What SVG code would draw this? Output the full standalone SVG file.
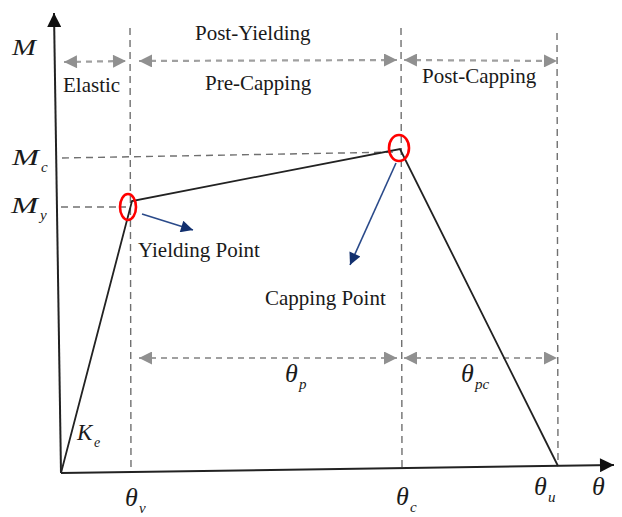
<svg xmlns="http://www.w3.org/2000/svg" width="622" height="517" viewBox="0 0 622 517">
<defs>
<style>
.lbl{font-family:"Liberation Serif","DejaVu Serif","Times New Roman",serif;font-size:21px;fill:#1a1a1a}
.math{font-family:"Liberation Serif","DejaVu Serif","Times New Roman",serif;font-style:italic;fill:#1a1a1a}
.guide{stroke:#707070;stroke-width:1.4;stroke-dasharray:7 5;fill:none}
.span{stroke:#a0a0a0;stroke-width:2.2;stroke-dasharray:6 5;fill:none;marker-start:url(#ga);marker-end:url(#ga)}
.curve{stroke:#222;stroke-width:1.8;fill:none;stroke-linejoin:miter}
.axis{stroke:#222;stroke-width:2;fill:none}
.mark{stroke:#ff0000;stroke-width:2.6;fill:none}
.ptr{stroke:#2a4a8a;stroke-width:1.6;fill:none;marker-end:url(#ba)}
</style>
<marker id="ga" viewBox="0 0 10 10" refX="10" refY="5" markerWidth="14" markerHeight="13" markerUnits="userSpaceOnUse" orient="auto-start-reverse"><path d="M0,0 L10,5 L0,10 Z" fill="#909090"/></marker>
<marker id="ba" viewBox="0 0 10 10" refX="10" refY="5" markerWidth="14" markerHeight="12" markerUnits="userSpaceOnUse" orient="auto"><path d="M0,0 L10,5 L0,10 Z" fill="#12306e"/></marker>
<marker id="ka" viewBox="0 0 10 10" refX="10" refY="5" markerWidth="16" markerHeight="14" markerUnits="userSpaceOnUse" orient="auto"><path d="M0,0 L10,5 L0,10 Z" fill="#111"/></marker>
</defs>
<rect width="622" height="517" fill="#fff"/>

<g id="guides">
<line class="guide" x1="130" y1="28" x2="131" y2="472"/>
<line class="guide" x1="401" y1="28" x2="402" y2="467"/>
<line class="guide" x1="557" y1="33" x2="558" y2="465"/>
<line class="guide" x1="62" y1="158" x2="398" y2="152"/>
<line class="guide" x1="61" y1="207" x2="126" y2="207"/>
</g>

<g id="connectors">
<line class="span" x1="64" y1="62" x2="126" y2="61"/>
<line class="span" x1="139" y1="61" x2="397" y2="60"/>
<line class="span" x1="404" y1="60" x2="557" y2="61"/>
<line class="span" x1="139" y1="358" x2="397" y2="358"/>
<line class="span" x1="404" y1="358" x2="557" y2="358"/>
<line class="ptr" x1="142" y1="214" x2="193" y2="230"/>
<line class="ptr" x1="396" y1="163" x2="350" y2="265"/>
</g>

<g id="axes">
<line class="axis" x1="61" y1="473" x2="54" y2="13" marker-end="url(#ka)"/>
<line class="axis" x1="61" y1="473" x2="614" y2="465" marker-end="url(#ka)"/>
</g>

<g id="curve">
<polyline class="curve" points="61,473 132,201 400,149 558,466"/>
</g>

<g id="yield-point">
<ellipse class="mark" cx="128" cy="207" rx="8" ry="13"/>
<text class="lbl" x="138" y="257">Yielding Point</text>
</g>
<g id="capping-point">
<ellipse class="mark" cx="399" cy="148" rx="10" ry="13"/>
<text class="lbl" x="265" y="305">Capping Point</text>
</g>

<g id="region-labels">
<text class="lbl" x="63" y="92">Elastic</text>
<text class="lbl" x="195" y="40">Post-Yielding</text>
<text class="lbl" x="205" y="90">Pre-Capping</text>
<text class="lbl" x="422" y="83">Post-Capping</text>
</g>

<g id="math-labels">
<text class="math" x="12" y="55" font-size="23" textLength="24" lengthAdjust="spacingAndGlyphs">M</text>
<text class="math" x="12" y="165" font-size="23" textLength="27" lengthAdjust="spacingAndGlyphs">M</text>
<text class="math" x="41" y="172" font-size="15">c</text>
<text class="math" x="11" y="213" font-size="23" textLength="27" lengthAdjust="spacingAndGlyphs">M</text>
<text class="math" x="40" y="220" font-size="15">y</text>
<text class="math" x="77" y="440" font-size="23">K</text>
<text class="math" x="94" y="447" font-size="14">e</text>
<text class="math" x="285" y="382" font-size="26">θ</text>
<text class="math" x="299" y="389" font-size="15">p</text>
<text class="math" x="461" y="382" font-size="26">θ</text>
<text class="math" x="475" y="389" font-size="15">pc</text>
<text class="math" x="125" y="506" font-size="26">θ</text>
<text class="math" x="139" y="513" font-size="15">v</text>
<text class="math" x="396" y="505" font-size="26">θ</text>
<text class="math" x="410" y="512" font-size="15">c</text>
<text class="math" x="534" y="495" font-size="26">θ</text>
<text class="math" x="548" y="502" font-size="15">u</text>
<text class="math" x="592" y="495" font-size="26">θ</text>
</g>
</svg>
